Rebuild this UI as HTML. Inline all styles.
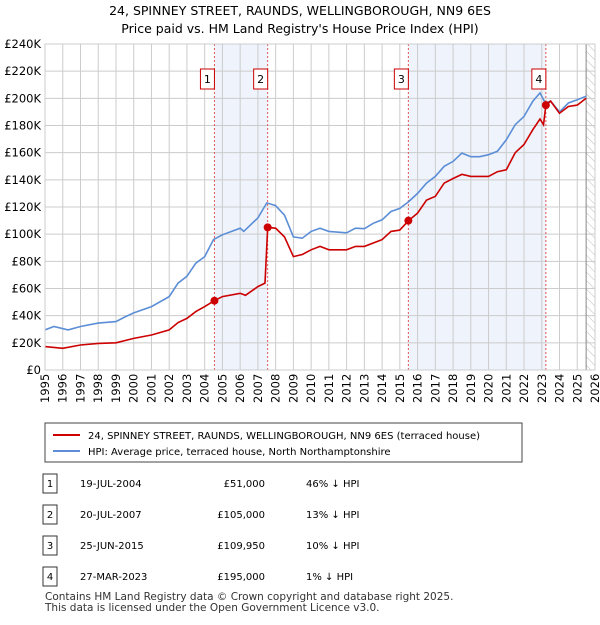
<!DOCTYPE html>
<html><head><meta charset="utf-8"><style>
body{margin:0;background:#fff;font-family:"Liberation Sans","DejaVu Sans",sans-serif;}
svg text{font-family:"DejaVu Sans","Liberation Sans",sans-serif;}
</style></head><body>
<svg id="c" width="600" height="620" xmlns="http://www.w3.org/2000/svg">
<text x="300" y="15" text-anchor="middle" font-size="12.5">24, SPINNEY STREET, RAUNDS, WELLINGBOROUGH, NN9 6ES</text>
<text x="300" y="33" text-anchor="middle" font-size="12.5">Price paid vs. HM Land Registry's House Price Index (HPI)</text>
<g id="plot"></g>
<g>
<rect x="45" y="423" width="477" height="39" fill="#fff" stroke="#444"/>
<line x1="53" y1="435" x2="80" y2="435" stroke="#cc0000" stroke-width="2"/>
<text x="88" y="439" font-size="10">24, SPINNEY STREET, RAUNDS, WELLINGBOROUGH, NN9 6ES (terraced house)</text>
<line x1="53" y1="451" x2="80" y2="451" stroke="#5b8ed6" stroke-width="2"/>
<text x="88" y="455" font-size="10">HPI: Average price, terraced house, North Northamptonshire</text>
</g>
<g id="table" font-size="10"></g>
<text x="45" y="600" font-size="10.5" fill="#333">Contains HM Land Registry data © Crown copyright and database right 2025.</text>
<text x="45" y="611" font-size="10.5" fill="#333">This data is licensed under the Open Government Licence v3.0.</text>
</svg>
<script>
const hpiYears=[1995,1995.5,1996.3,1997,1998,1999,1999.5,2000,2001,2002,2002.5,2003,2003.5,2004,2004.5,2005,2006,2006.2,2007,2007.5,2008,2008.5,2009,2009.5,2010,2010.5,2011,2012,2012.5,2013,2013.5,2014,2014.5,2015,2015.5,2016,2016.5,2017,2017.5,2018,2018.5,2019,2019.5,2020,2020.5,2021,2021.5,2022,2022.5,2022.9,2023.2,2023.5,2024,2024.5,2025,2025.5];
const hpiValues=[29.5,32,29.5,32,34.5,35.6,39,42,46.7,54,64,69,78.6,83.5,96,99.5,104.4,102,112,123,121,114,98,97,102,104.4,102,101,104.4,104,108,110.6,116.7,119,124,130,137.6,142.5,150,153.6,159.7,157,157,158.5,161,169.5,180.6,186.7,198,204,196.6,198,190,196.6,199,201.5];
const ppYears=[1995,1996,1997,1998,1999,2000,2001,2002,2002.5,2003,2003.5,2004,2004.55,2005,2006,2006.3,2007,2007.4,2007.55,2008,2008.5,2009,2009.5,2010,2010.5,2011,2012,2012.5,2013,2014,2014.5,2015,2015.48,2016,2016.5,2017,2017.5,2018,2018.5,2019,2020,2020.5,2021,2021.5,2022,2022.5,2022.9,2023.1,2023.23,2023.5,2024,2024.5,2025,2025.5];
const ppValues=[17.2,16,18.4,19.6,20,23.3,25.8,29.5,35,38,43,46.7,51,54,56.5,55,61.4,64,105,104.4,98,83.5,85,88.5,91,88.5,88.5,91,91,96,102,103,109.95,115.5,125,127.8,137.6,141,144,142.5,142.5,146,147.4,160,166,177,184.8,180.6,195,198,189,194,195,200];
const saleYears=[2004.55,2007.55,2015.48,2023.23];
const saleValues=[51,105,109.95,195];
const saleLabels=["1","2","3","4"];
const saleDates=["19-JUL-2004","20-JUL-2007","25-JUN-2015","27-MAR-2023"];
const salePrices=["£51,000","£105,000","£109,950","£195,000"];
const saleDiffs=["46% ↓ HPI","13% ↓ HPI","10% ↓ HPI","1% ↓ HPI"];
const yTicks=[0,20,40,60,80,100,120,140,160,180,200,220,240];
const xTicks=[1995,1996,1997,1998,1999,2000,2001,2002,2003,2004,2005,2006,2007,2008,2009,2010,2011,2012,2013,2014,2015,2016,2017,2018,2019,2020,2021,2022,2023,2024,2025,2026];

const X0=45,X1=595,Y0=370,Y1=44;
const x=v=>X0+(v-1995)*(X1-X0)/31;
const y=v=>Y0-v*(Y0-Y1)/240;
const NS="http://www.w3.org/2000/svg";
const plot=document.getElementById('plot');
function mk(t,a,p){const e=document.createElementNS(NS,t);for(const k in a)e.setAttribute(k,a[k]);(p||plot).appendChild(e);return e;}

// shading
for(let i=0;i<saleYears.length;i+=2){
  const r=mk('rect',{x:x(saleYears[i]),y:Y1,width:x(saleYears[i+1])-x(saleYears[i]),height:Y0-Y1,fill:'#eef3fc'});
  
  
}
// hatch
const defs=mk('defs',{});
const pat=mk('pattern',{id:'h',width:6,height:6,patternUnits:'userSpaceOnUse',patternTransform:'rotate(-45)'},defs);
mk('line',{x1:0,y1:0,x2:0,y2:6,stroke:'#bbb','stroke-width':1},pat);
const hr=mk('rect',{x:x(2025.5),y:Y1,width:X1-x(2025.5),height:Y0-Y1,fill:'url(#h)'});



yTicks.forEach(v=>{
  const l=mk('line',{x1:X0,x2:X1,y1:y(v),y2:y(v),stroke:'#ccc'});
  
  
  const t=mk('text',{x:X0-4,y:y(v)+4,'text-anchor':'end','font-size':11.5});
  t.textContent=v===0?'£0':'£'+v+'K';
  
  
});
xTicks.forEach(v=>{
  const l=mk('line',{x1:x(v),x2:x(v),y1:Y1,y2:Y0,stroke:'#ccc'});
  
  
  const t=mk('text',{transform:`translate(${x(v)+4},${Y0+33}) rotate(-90)`,'font-size':11.5});
  t.textContent=v;
  
  
});
mk('line',{x1:x(2025.5),x2:x(2025.5),y1:Y1,y2:Y0,stroke:'#888'});
saleYears.forEach((v,i)=>{
  const l=mk('line',{x1:x(v),x2:x(v),y1:Y1,y2:Y0,stroke:'#e05555','stroke-dasharray':'2,2'});
  
  
  const r=mk('rect',{x:x(v)-14,y:69,width:14,height:20,fill:'#fff',stroke:'#cc0000'});
  
  
  const t=mk('text',{x:x(v)-7,y:83,'text-anchor':'middle','font-size':11});
  t.textContent=saleLabels[i];
  
  
});
const pts=(xs,vs)=>xs.map((v,i)=>x(v).toFixed(1)+','+y(vs[i]).toFixed(1)).join(' ');
const h=mk('polyline',{points:pts(hpiYears,hpiValues),fill:'none',stroke:'#5b8ed6','stroke-width':1.6});


const p=mk('polyline',{points:pts(ppYears,ppValues),fill:'none',stroke:'#cc0000','stroke-width':1.6});


saleYears.forEach((v,i)=>{
  const c=mk('circle',{cx:x(v),cy:y(saleValues[i]),r:4,fill:'#cc0000'});
  
  
});
mk('rect',{x:X0,y:Y1,width:X1-X0,height:Y0-Y1,fill:'none',stroke:'#ccc'});

const tb=document.getElementById('table');
saleLabels.forEach((s,i)=>{
  const cy=483+i*31;
  const g=mk('g',{},tb);
  
  
  mk('rect',{x:43,y:cy-9,width:14,height:19,fill:'#fff',stroke:'#333'},g);
  const cells=[[50,s,'middle'],[80,saleDates[i],'start'],[265,salePrices[i],'end'],[306,saleDiffs[i],'start']];
  cells.forEach(c=>{const t=mk('text',{x:c[0],y:cy+4,'text-anchor':c[2],'font-size':10},g);t.textContent=c[1];});
});
</script>
</body></html>
